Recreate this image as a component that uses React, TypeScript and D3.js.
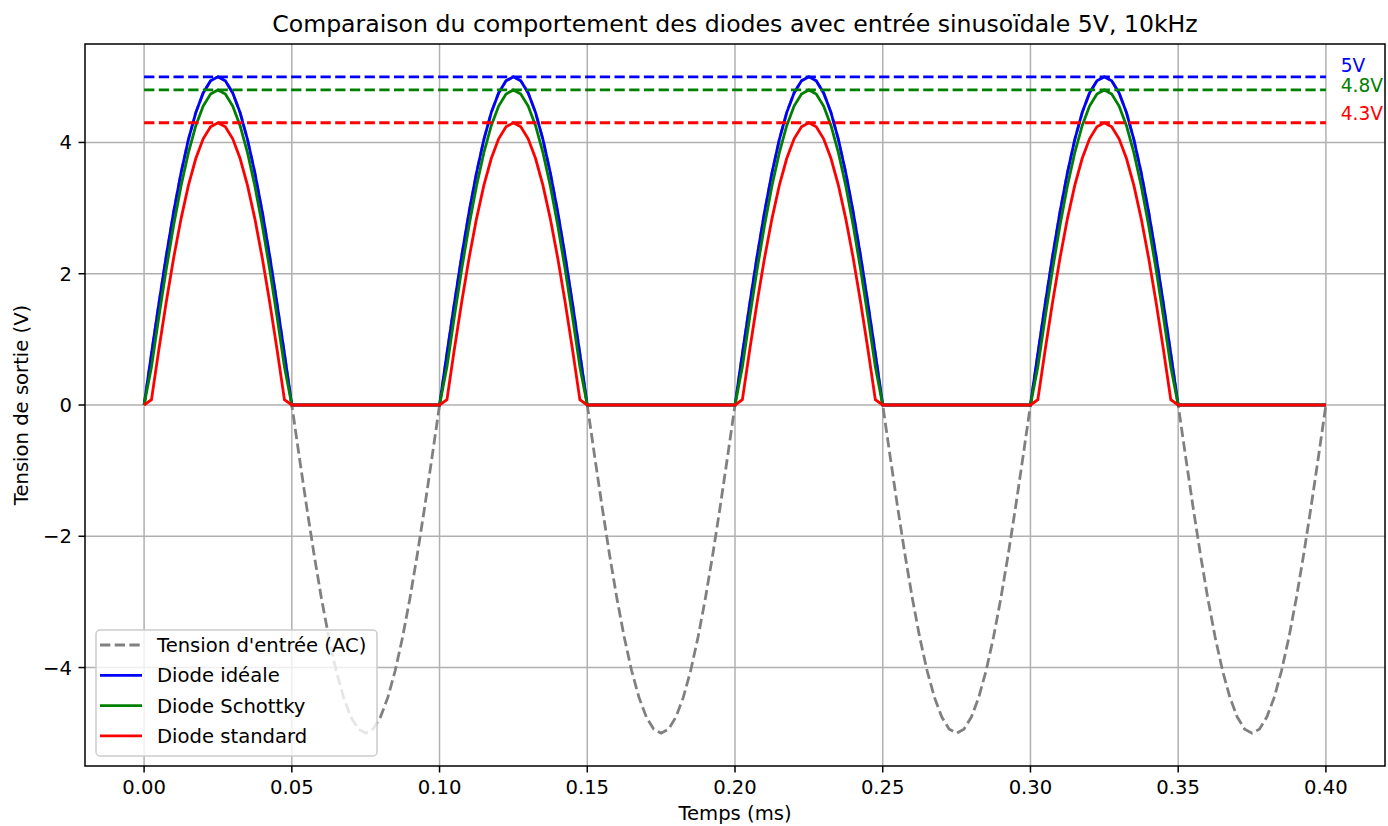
import React from 'react';
import * as d3 from 'd3';

// tension d'entrée (V), échantillonnée tous les 0.0025 ms
const tensionEntree = [
  0, 0.782, 1.545, 2.270, 2.939, 3.536, 4.045, 4.455, 4.755, 4.938, 5, 4.938, 4.755, 4.455, 4.045, 3.536, 2.939, 2.270, 1.545, 0.782,
  0, -0.782, -1.545, -2.270, -2.939, -3.536, -4.045, -4.455, -4.755, -4.938, -5, -4.938, -4.755, -4.455, -4.045, -3.536, -2.939, -2.270, -1.545, -0.782,
  0, 0.782, 1.545, 2.270, 2.939, 3.536, 4.045, 4.455, 4.755, 4.938, 5, 4.938, 4.755, 4.455, 4.045, 3.536, 2.939, 2.270, 1.545, 0.782,
  0, -0.782, -1.545, -2.270, -2.939, -3.536, -4.045, -4.455, -4.755, -4.938, -5, -4.938, -4.755, -4.455, -4.045, -3.536, -2.939, -2.270, -1.545, -0.782,
  0, 0.782, 1.545, 2.270, 2.939, 3.536, 4.045, 4.455, 4.755, 4.938, 5, 4.938, 4.755, 4.455, 4.045, 3.536, 2.939, 2.270, 1.545, 0.782,
  0, -0.782, -1.545, -2.270, -2.939, -3.536, -4.045, -4.455, -4.755, -4.938, -5, -4.938, -4.755, -4.455, -4.045, -3.536, -2.939, -2.270, -1.545, -0.782,
  0, 0.782, 1.545, 2.270, 2.939, 3.536, 4.045, 4.455, 4.755, 4.938, 5, 4.938, 4.755, 4.455, 4.045, 3.536, 2.939, 2.270, 1.545, 0.782,
  0, -0.782, -1.545, -2.270, -2.939, -3.536, -4.045, -4.455, -4.755, -4.938, -5, -4.938, -4.755, -4.455, -4.045, -3.536, -2.939, -2.270, -1.545, -0.782,
  0,
];

const diodeIdeale = [
  0, 0.782, 1.545, 2.270, 2.939, 3.536, 4.045, 4.455, 4.755, 4.938, 5, 4.938, 4.755, 4.455, 4.045, 3.536, 2.939, 2.270, 1.545, 0.782,
  0, 0, 0, 0, 0, 0, 0, 0, 0, 0, 0, 0, 0, 0, 0, 0, 0, 0, 0, 0,
  0, 0.782, 1.545, 2.270, 2.939, 3.536, 4.045, 4.455, 4.755, 4.938, 5, 4.938, 4.755, 4.455, 4.045, 3.536, 2.939, 2.270, 1.545, 0.782,
  0, 0, 0, 0, 0, 0, 0, 0, 0, 0, 0, 0, 0, 0, 0, 0, 0, 0, 0, 0,
  0, 0.782, 1.545, 2.270, 2.939, 3.536, 4.045, 4.455, 4.755, 4.938, 5, 4.938, 4.755, 4.455, 4.045, 3.536, 2.939, 2.270, 1.545, 0.782,
  0, 0, 0, 0, 0, 0, 0, 0, 0, 0, 0, 0, 0, 0, 0, 0, 0, 0, 0, 0,
  0, 0.782, 1.545, 2.270, 2.939, 3.536, 4.045, 4.455, 4.755, 4.938, 5, 4.938, 4.755, 4.455, 4.045, 3.536, 2.939, 2.270, 1.545, 0.782,
  0, 0, 0, 0, 0, 0, 0, 0, 0, 0, 0, 0, 0, 0, 0, 0, 0, 0, 0, 0,
  0,
];

const diodeSchottky = [
  0, 0.582, 1.345, 2.070, 2.739, 3.336, 3.845, 4.255, 4.555, 4.738, 4.8, 4.738, 4.555, 4.255, 3.845, 3.336, 2.739, 2.070, 1.345, 0.582,
  0, 0, 0, 0, 0, 0, 0, 0, 0, 0, 0, 0, 0, 0, 0, 0, 0, 0, 0, 0,
  0, 0.582, 1.345, 2.070, 2.739, 3.336, 3.845, 4.255, 4.555, 4.738, 4.8, 4.738, 4.555, 4.255, 3.845, 3.336, 2.739, 2.070, 1.345, 0.582,
  0, 0, 0, 0, 0, 0, 0, 0, 0, 0, 0, 0, 0, 0, 0, 0, 0, 0, 0, 0,
  0, 0.582, 1.345, 2.070, 2.739, 3.336, 3.845, 4.255, 4.555, 4.738, 4.8, 4.738, 4.555, 4.255, 3.845, 3.336, 2.739, 2.070, 1.345, 0.582,
  0, 0, 0, 0, 0, 0, 0, 0, 0, 0, 0, 0, 0, 0, 0, 0, 0, 0, 0, 0,
  0, 0.582, 1.345, 2.070, 2.739, 3.336, 3.845, 4.255, 4.555, 4.738, 4.8, 4.738, 4.555, 4.255, 3.845, 3.336, 2.739, 2.070, 1.345, 0.582,
  0, 0, 0, 0, 0, 0, 0, 0, 0, 0, 0, 0, 0, 0, 0, 0, 0, 0, 0, 0,
  0,
];

const diodeStandard = [
  0, 0.082, 0.845, 1.570, 2.239, 2.836, 3.345, 3.755, 4.055, 4.238, 4.3, 4.238, 4.055, 3.755, 3.345, 2.836, 2.239, 1.570, 0.845, 0.082,
  0, 0, 0, 0, 0, 0, 0, 0, 0, 0, 0, 0, 0, 0, 0, 0, 0, 0, 0, 0,
  0, 0.082, 0.845, 1.570, 2.239, 2.836, 3.345, 3.755, 4.055, 4.238, 4.3, 4.238, 4.055, 3.755, 3.345, 2.836, 2.239, 1.570, 0.845, 0.082,
  0, 0, 0, 0, 0, 0, 0, 0, 0, 0, 0, 0, 0, 0, 0, 0, 0, 0, 0, 0,
  0, 0.082, 0.845, 1.570, 2.239, 2.836, 3.345, 3.755, 4.055, 4.238, 4.3, 4.238, 4.055, 3.755, 3.345, 2.836, 2.239, 1.570, 0.845, 0.082,
  0, 0, 0, 0, 0, 0, 0, 0, 0, 0, 0, 0, 0, 0, 0, 0, 0, 0, 0, 0,
  0, 0.082, 0.845, 1.570, 2.239, 2.836, 3.345, 3.755, 4.055, 4.238, 4.3, 4.238, 4.055, 3.755, 3.345, 2.836, 2.239, 1.570, 0.845, 0.082,
  0, 0, 0, 0, 0, 0, 0, 0, 0, 0, 0, 0, 0, 0, 0, 0, 0, 0, 0, 0,
  0,
];

const pasTemps = 0.0025; // ms
const xTicks = [0, 0.05, 0.1, 0.15, 0.2, 0.25, 0.3, 0.35, 0.4];
const yTicks = [-4, -2, 0, 2, 4];

// niveaux de crête (lignes pointillées)
const niveaux = [5, 4.8, 4.3];
const niveauxLabels = ['5V', '4.8V', '4.3V'];

const series = [
  { label: "Tension d'entrée (AC)", values: tensionEntree, color: '#808080', dashed: true },
  { label: 'Diode idéale', values: diodeIdeale, color: '#0000ff', dashed: false },
  { label: 'Diode Schottky', values: diodeSchottky, color: '#008000', dashed: false },
  { label: 'Diode standard', values: diodeStandard, color: '#ff0000', dashed: false },
];

const W = 1388;
const H = 826;
const margin = { top: 44, right: 3, bottom: 60, left: 85 };
const FONT = 'DejaVu Sans, sans-serif';
const FS = 19.6;

export default function App() {
  const x = d3.scaleLinear().domain([-0.02, 0.42]).range([margin.left, W - margin.right]);
  const y = d3.scaleLinear().domain([-5.5, 5.5]).range([H - margin.bottom, margin.top]);

  const line = d3.line<number>()
    .x((d, i) => x(i * pasTemps))
    .y((d) => y(d));

  const fmtX = d3.format('.2f');
  const fmtY = (v: number) => (v < 0 ? `\u2212${Math.abs(v)}` : `${v}`);

  const x0 = margin.left;
  const x1 = W - margin.right;
  const y0 = margin.top;
  const y1 = H - margin.bottom;

  // decalage vertical des étiquettes de niveau
  const labelDy = [-4.5, 2, -2.5];

  const legend = { x: 96, y: 630, w: 281, h: 126 };

  return (
    <div style={{ position: 'fixed', left: 0, top: 0 }}>
      <svg width={W} height={H} style={{ display: 'block', background: '#fff' }} fontFamily={FONT}>
        {/* grille */}
        <g stroke="#b0b0b0" strokeWidth={1.5}>
          {xTicks.map((t) => <line key={`gx${t}`} x1={x(t)} x2={x(t)} y1={y0} y2={y1} />)}
          {yTicks.map((t) => <line key={`gy${t}`} x1={x0} x2={x1} y1={y(t)} y2={y(t)} />)}
        </g>

        {/* courbes */}
        {series.map((s) => (
          <path
            key={s.label}
            d={line(s.values) || ''}
            fill="none"
            stroke={s.color}
            strokeWidth={2.8}
            strokeDasharray={s.dashed ? '10.3 4.4' : undefined}
          />
        ))}

        {/* niveaux de crête */}
        {niveaux.map((v, i) => (
          <g key={`n${v}`}>
            <line
              x1={x(0)} x2={x(0.4)} y1={y(v)} y2={y(v)}
              stroke={series[i + 1].color} strokeWidth={2.8} strokeDasharray="10.3 4.4"
            />
            <text x={x(0.405)} y={y(v) + labelDy[i]} fontSize={FS - 1} fill={series[i + 1].color}>
              {niveauxLabels[i]}
            </text>
          </g>
        ))}

        {/* axes */}
        <rect x={x0} y={y0} width={x1 - x0} height={y1 - y0} fill="none" stroke="#000" strokeWidth={1.5} />
        <g fontSize={FS} fill="#000">
          {xTicks.map((t) => (
            <g key={`tx${t}`}>
              <line x1={x(t)} x2={x(t)} y1={y1} y2={y1 + 6.5} stroke="#000" strokeWidth={1.5} />
              <text x={x(t)} y={y1 + 28} textAnchor="middle">{fmtX(t)}</text>
            </g>
          ))}
          {yTicks.map((t) => (
            <g key={`ty${t}`}>
              <line x1={x0 - 6.5} x2={x0} y1={y(t)} y2={y(t)} stroke="#000" strokeWidth={1.5} />
              <text x={x0 - 13} y={y(t) + 7} textAnchor="end">{fmtY(t)}</text>
            </g>
          ))}
          <text x={(x0 + x1) / 2} y={820} textAnchor="middle">Temps (ms)</text>
          <text transform={`translate(28,${(y0 + y1) / 2}) rotate(-90)`} textAnchor="middle">Tension de sortie (V)</text>
        </g>
        <text x={(x0 + x1) / 2} y={32} textAnchor="middle" fontSize={23.6} fill="#000">
          Comparaison du comportement des diodes avec entrée sinusoïdale 5V, 10kHz
        </text>

        {/* légende */}
        <g>
          <rect
            x={legend.x} y={legend.y} width={legend.w} height={legend.h} rx={4}
            fill="#fff" fillOpacity={0.8} stroke="#cccccc" strokeWidth={1.5}
          />
          {series.map((s, i) => {
            const cy = legend.y + 15 + i * 30.3;
            return (
              <g key={`l${s.label}`}>
                <line
                  x1={legend.x + 4} x2={legend.x + 46} y1={cy} y2={cy}
                  stroke={s.color} strokeWidth={2.8}
                  strokeDasharray={s.dashed ? '10.3 4.4' : undefined}
                />
                <text x={legend.x + 61} y={cy + 7} fontSize={FS} fill="#000">{s.label}</text>
              </g>
            );
          })}
        </g>
      </svg>
    </div>
  );
}
